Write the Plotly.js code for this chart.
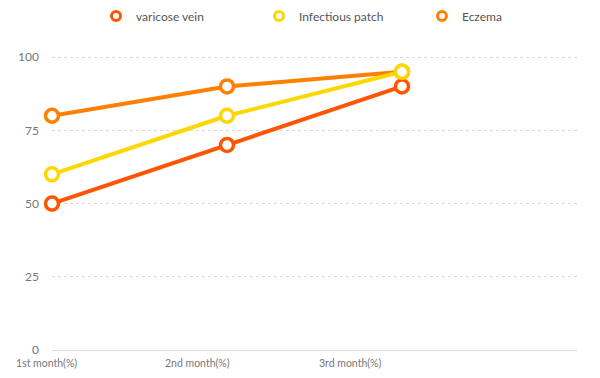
<!DOCTYPE html>
<html>
<head>
<meta charset="utf-8">
<script src="https://cdn.plot.ly/plotly-3.0.1.min.js"></script>
<style>html,body{margin:0;padding:0;background:#fff;}#chart{width:600px;height:378px;}</style>
</head>
<body>
<div id="chart"></div>
<script>
const categories = ["1st month(%)", "2nd month(%)", "3rd month(%)"];
const seriesNames = ["varicose vein", "Infectious patch", "Eczema"];
const varicoseVein = [50, 70, 90];
const infectiousPatch = [60, 80, 95];
const eczema = [80, 90, 95];
const yTicks = [0, 25, 50, 75, 100];
const colors = ["#FF5500", "#FFD700", "#FF7F00"];

const xIdx = categories.map((c, i) => i);
const seriesData = [varicoseVein, infectiousPatch, eczema];

const traces = [];
// legend entries (marker only)
seriesNames.forEach((name, i) => {
  traces.push({
    x: [null], y: [null], type: 'scatter', mode: 'markers', name: name,
    marker: {symbol: 'circle-open', size: 9, color: colors[i], line: {width: 3, color: colors[i]}},
    showlegend: true, hoverinfo: 'skip'
  });
});
// data lines: eczema first, then red, then yellow on top
[2, 0, 1].forEach(i => {
  traces.push({
    x: xIdx, y: seriesData[i], type: 'scatter', mode: 'lines+markers', name: seriesNames[i],
    showlegend: false, cliponaxis: false,
    line: {color: colors[i], width: 4},
    marker: {symbol: 'circle', size: 13, color: '#ffffff', line: {width: 3.5, color: colors[i]}}
  });
});

// category labels (offset like the reference, spaced evenly)
const annotations = categories.map((c, i) => ({
  text: c, xref: 'paper', yref: 'paper', x: (i * 0.867 - 0.034) / 3, y: 0, yshift: -13,
  showarrow: false, xanchor: 'center', yanchor: 'middle',
  font: {family: 'Lato, "Noto Sans", sans-serif', size: 10.5, color: '#777'}
}));

const layout = {
  width: 600, height: 378,
  margin: {l: 52, r: 23, t: 56, b: 28},
  paper_bgcolor: '#fff', plot_bgcolor: '#fff',
  font: {family: 'Lato, "Noto Sans", sans-serif', size: 11, color: '#666'},
  showlegend: true,
  legend: {
    orientation: 'h', xref: 'container', yref: 'container',
    x: 96 / 600, xanchor: 'left', y: 1 - 16 / 378, yanchor: 'middle',
    font: {size: 12, color: '#555'}, entrywidth: 118, itemwidth: 30, traceorder: 'normal'
  },
  xaxis: {
    range: [0, 3], showgrid: false, zeroline: false, showticklabels: false,
    showline: false, ticks: '', fixedrange: true
  },
  yaxis: {
    range: [0, 100.4], tickvals: yTicks, ticktext: yTicks.map(String),
    showgrid: true, gridcolor: '#d8d8d8', griddash: 'dot', gridwidth: 1,
    zeroline: true, zerolinecolor: '#dddddd', zerolinewidth: 1,
    showline: false, ticks: '', ticklabelstandoff: 12,
    tickfont: {size: 12, color: '#777'}, fixedrange: true
  },
  annotations: annotations
};

Plotly.newPlot('chart', traces, layout, {displayModeBar: false, staticPlot: true});
</script>
</body>
</html>
